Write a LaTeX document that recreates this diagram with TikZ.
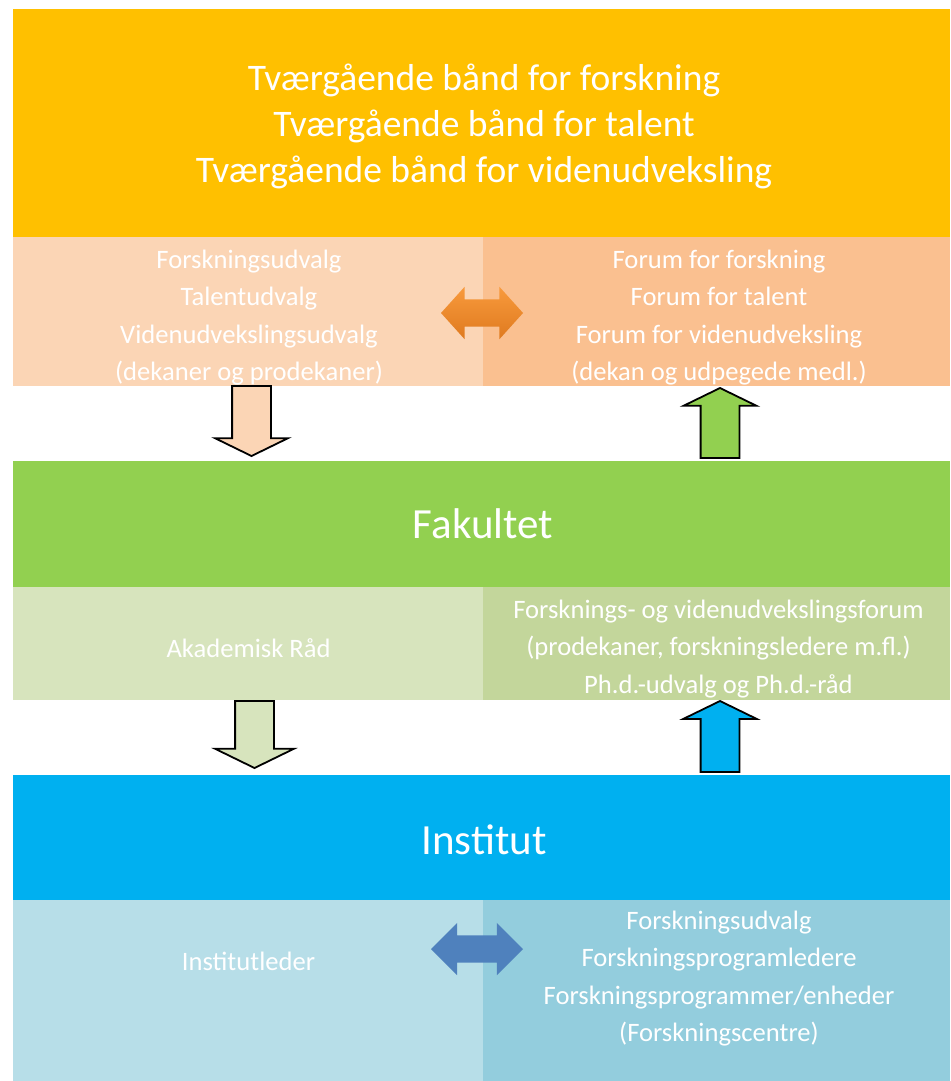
\documentclass[tikz,border=0pt]{standalone}
\usepackage{fontspec}
\setmainfont{Carlito}
\usepackage{xcolor}
\usepackage{tikz}
\usetikzlibrary{shapes.arrows, positioning}

\definecolor{bandorange}{HTML}{FFC000}
\definecolor{peachleft}{HTML}{FBD5B5}
\definecolor{peachright}{HTML}{FAC090}
\definecolor{bandgreen}{HTML}{92D050}
\definecolor{lgreenleft}{HTML}{D7E4BD}
\definecolor{lgreenright}{HTML}{C3D69B}
\definecolor{bandblue}{HTML}{00B0F0}
\definecolor{lblueleft}{HTML}{B7DEE8}
\definecolor{lblueright}{HTML}{93CDDD}
\definecolor{arrowblue}{HTML}{4F81BD}

\begin{document}
\begin{tikzpicture} [x = 1pt, y = -1pt,
          box/.style = {rectangle, inner sep = 0pt, anchor = north west},
          boxtext/.style = {text = white, align = center, inner sep = 0pt},
          bigtext/.style = {font = \fontsize{37.5}{46}\selectfont},
          headtext/.style = {font = \fontsize{43}{50}\selectfont},
          smalltext/.style = {font = \fontsize{26.6}{37.3}\selectfont},
          blockarrow/.style = {single arrow, draw = black, line width = 1.8pt,
              inner xsep = 0pt, inner ysep = 18.5pt, minimum height = 70pt,
              single arrow head extend = 17pt, single arrow tip angle = 128,
              anchor = tip},
          twoway/.style = {double arrow, inner xsep = 0pt, inner ysep = 13.5pt,
              minimum height = 82pt, double arrow head extend = 12.5pt,
              double arrow tip angle = 96}
          ]
          \useasboundingbox (0,0) rectangle (950,1081);

          % Bands
          \node (top) [box, fill = bandorange, minimum width = 937pt, minimum height = 228pt] at (13,9) {};
          \node (udvalg) [box, fill = peachleft, minimum width = 470pt, minimum height = 149pt] at (13,237) {};
          \node (forum) [box, fill = peachright, minimum width = 467pt, minimum height = 149pt] at (483,237) {};
          \node (fak) [box, fill = bandgreen, minimum width = 937pt, minimum height = 126pt] at (13,461) {};
          \node (raad) [box, fill = lgreenleft, minimum width = 470pt, minimum height = 113pt] at (13,587) {};
          \node (fvforum) [box, fill = lgreenright, minimum width = 467pt, minimum height = 113pt] at (483,587) {};
          \node (inst) [box, fill = bandblue, minimum width = 937pt, minimum height = 125pt] at (13,775) {};
          \node (leder) [box, fill = lblueleft, minimum width = 470pt, minimum height = 181pt] at (13,900) {};
          \node (progr) [box, fill = lblueright, minimum width = 467pt, minimum height = 181pt] at (483,900) {};

          % Texts
          \node (toptxt) [boxtext, bigtext] at (484,126.5)
              {Tværgående bånd for forskning\\Tværgående bånd for talent\\Tværgående bånd for videnudveksling};
          \node (udvalgtxt) [boxtext, smalltext] at (249,317.5)
              {Forskningsudvalg\\Talentudvalg\\Videnudvekslingsudvalg\\(dekaner og prodekaner)};
          \node (forumtxt) [boxtext, smalltext] at (719,317.5)
              {Forum for forskning\\Forum for talent\\Forum for videnudveksling\\(dekan og udpegede medl.)};
          \node (faktxt) [boxtext, headtext] at (483,524) {Fakultet};
          \node (raadtxt) [boxtext, smalltext] at (248.5,648) {Akademisk Råd};
          \node (fvforumtxt) [boxtext, smalltext] at (718.5,649)
              {Forsknings- og videnudvekslingsforum\\(prodekaner, forskningsledere m.fl.)\\Ph.d.-udvalg og Ph.d.-råd};
          \node (insttxt) [boxtext, headtext] at (484,840) {Institut};
          \node (ledertxt) [boxtext, smalltext] at (248.5,961) {Institutleder};
          \node (progrtxt) [boxtext, smalltext, anchor = north] at (719,911)
              {Forskningsudvalg\\Forskningsprogramledere\\Forskningsprogrammer/enheder\\(Forskningscentre)};

          % Arrows
          \node (a1) [twoway, top color = {rgb,255:red,248;green,154;blue,60},
              bottom color = {rgb,255:red,223;green,122;blue,31}] at (482,313) {};
          \node (a2) [blockarrow, fill = peachleft, rotate = -90] at (251.5,457) {};
          \node (a3) [blockarrow, fill = bandgreen, rotate = 90] at (720,387) {};
          \node (a4) [blockarrow, fill = lgreenleft, rotate = -90, minimum height = 67pt,
              single arrow head extend = 20pt] at (254.5,769) {};
          \node (a5) [blockarrow, fill = bandblue, rotate = 90, minimum height = 71pt,
              single arrow head extend = 17.5pt] at (720,700) {};
          \node (a6) [twoway, fill = arrowblue, minimum height = 92pt,
              double arrow tip angle = 90] at (477,949) {};

        \end{tikzpicture}
\end{document}
